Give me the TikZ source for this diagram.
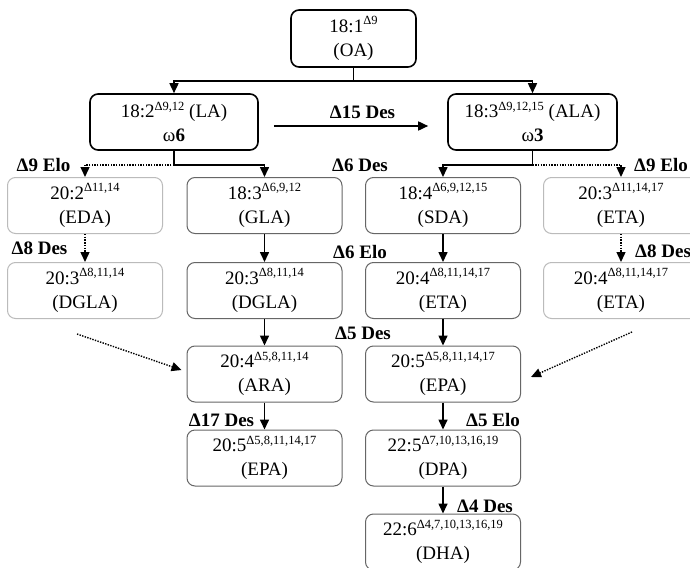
\documentclass[tikz,border=0pt]{standalone}
\usepackage{fontspec}
\setmainfont{Liberation Serif}
\usetikzlibrary{arrows.meta,calc}
\newcommand\dsup[1]{\raisebox{7.5pt}{\fontsize{12.5}{12.5}\selectfont Δ#1}}
\definecolor{midgray}{HTML}{666666}
\definecolor{lightgray2}{HTML}{BBBBBB}
\tikzset{
  boxbase/.style={rounded corners=8pt, minimum width=155pt, minimum height=56pt, inner sep=0pt, align=center, font=\fontsize{19}{24}\selectfont},
  mainbox/.style={boxbase, draw=black, line width=1.6pt},
  midbox/.style={boxbase, draw=midgray, line width=1pt},
  sidebox/.style={boxbase, draw=lightgray2, line width=1pt},
  arr/.style={line width=1.6pt, -{Triangle[length=10pt,width=9pt]}},
  plainline/.style={line width=1.6pt},
  darr/.style={line width=1.4pt, dash pattern=on 1.4pt off 1.3pt, -{Triangle[length=10pt,width=9pt]}},
  lbl/.style={font=\fontsize{19}{19}\selectfont\bfseries, inner sep=0pt}
}
\begin{document}
\begin{tikzpicture}[x=1pt,y=-1pt]
\clip (0,0) rectangle (690,567);
\fill[white] (0,0) rectangle (690,567);
% top boxes
\node[mainbox, minimum width=125pt, minimum height=57pt] (OA) at (353.5,38.5) {18:1\dsup{9}\\(OA)};
\node[mainbox, minimum width=168pt] (LA) at (174,122) {18:2\dsup{9,12} (LA)\\ω\textbf{6}};
\node[mainbox, minimum width=169pt] (ALA) at (532.5,122) {18:3\dsup{9,12,15} (ALA)\\ω\textbf{3}};
% row 1
\node[sidebox] (EDA) at (85,205.5) {20:2\dsup{11,14}\\(EDA)};
\node[midbox] (GLA) at (264.5,205.5) {18:3\dsup{6,9,12}\\(GLA)};
\node[midbox] (SDA) at (443,205.5) {18:4\dsup{6,9,12,15}\\(SDA)};
\node[sidebox] (ETAa) at (621,205.5) {20:3\dsup{11,14,17}\\(ETA)};
% row 2
\node[sidebox] (DGLAa) at (85,290.5) {20:3\dsup{8,11,14}\\(DGLA)};
\node[midbox] (DGLAb) at (264.5,290.5) {20:3\dsup{8,11,14}\\(DGLA)};
\node[midbox] (ETAb) at (443,290.5) {20:4\dsup{8,11,14,17}\\(ETA)};
\node[sidebox] (ETAc) at (621,290.5) {20:4\dsup{8,11,14,17}\\(ETA)};
% row 3
\node[midbox] (ARA) at (264.5,374) {20:4\dsup{5,8,11,14}\\(ARA)};
\node[midbox] (EPAa) at (443,374) {20:5\dsup{5,8,11,14,17}\\(EPA)};
% row 4
\node[midbox] (EPAb) at (264.5,458) {20:5\dsup{5,8,11,14,17}\\(EPA)};
\node[midbox] (DPA) at (443,458) {22:5\dsup{7,10,13,16,19}\\(DPA)};
% row 5
\node[midbox] (DHA) at (443,542) {22:6\dsup{4,7,10,13,16,19}\\(DHA)};

% OA split
\coordinate (jT) at ($(OA.south)+(0,13.5)$);
\draw[plainline] (OA.south) -- (jT);
\draw[arr] (jT) -| (LA.north);
\draw[arr] (jT) -| (ALA.north);

% LA to ALA
\draw[arr] ([xshift=15pt,yshift=-4pt]LA.east) -- ([xshift=-19pt,yshift=-4pt]ALA.west);
\node[lbl] (l15) at (362.5,112) {Δ15 Des};

% LA split
\coordinate (jL) at ($(LA.south)+(0,14)$);
\draw[darr] (jL) -| (EDA.north);
\draw[plainline] (LA.south) -- (jL);
\draw[arr] (jL) -| (GLA.north);
% ALA split
\coordinate (jR) at ($(ALA.south)+(0,14)$);
\draw[darr] (jR) -| (ETAa.north);
\draw[plainline] (ALA.south) -- (jR);
\draw[arr] (jR) -| (SDA.north);

% verticals
\draw[darr] (EDA.south) -- (DGLAa.north);
\draw[arr] (GLA.south) -- (DGLAb.north);
\draw[arr] (DGLAb.south) -- (ARA.north);
\draw[arr] (ARA.south) -- (EPAb.north);
\draw[arr] (SDA.south) -- (ETAb.north);
\draw[arr] (ETAb.south) -- (EPAa.north);
\draw[arr] (EPAa.south) -- (DPA.north);
\draw[arr] (DPA.south) -- (DHA.north);
\draw[darr] (ETAa.south) -- (ETAc.north);

% diagonals
\coordinate (dl) at (77,334);
\draw[darr] (dl) -- ([xshift=-5pt,yshift=4pt]ARA.west);
\coordinate (dr) at (632,332);
\draw[darr] (dr) -- ([xshift=10pt,yshift=-3pt]EPAa.east);

% labels
\node[lbl] (l9a) at (43.5,165) {Δ9 Elo};
\node[lbl] (l8a) at (39.5,248) {Δ8 Des};
\node[lbl] (l6d) at (360,165) {Δ6 Des};
\node[lbl] (l6e) at (360,252) {Δ6 Elo};
\node[lbl] (l5d) at (363,333) {Δ5 Des};
\node[lbl] (l9b) at (661,165) {Δ9 Elo};
\node[lbl, anchor=west] (l8b) at (635,251) {Δ8 Des};
\node[lbl] (l17) at (221.5,420) {Δ17 Des};
\node[lbl] (l5e) at (493,420) {Δ5 Elo};
\node[lbl] (l4d) at (485,506) {Δ4 Des};
\end{tikzpicture}
\end{document}
